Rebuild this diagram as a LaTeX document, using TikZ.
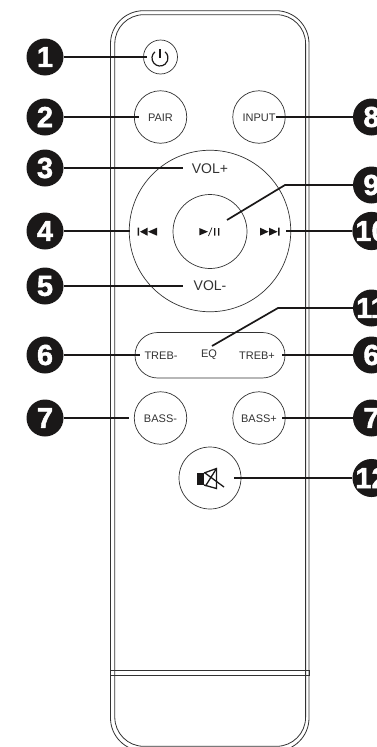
\documentclass[tikz,border=0pt]{standalone}
\usepackage{fontspec}
\setmainfont[BoldFeatures={FakeBold=1.6}]{Liberation Sans}
\usepackage{xcolor}
\usetikzlibrary{math}
\definecolor{myblack}{RGB}{26,24,24}
\definecolor{myline}{RGB}{50,50,50}
\tikzset{
  badge/.style={circle,fill=myblack,text=white,minimum size=37,inner sep=0,font=\fontsize{29}{29}\selectfont\bfseries},
  btn/.style={circle,draw=myline,line width=0.7,inner sep=0},
  lbl/.style={inner sep=0,text=myline,font=\fontsize{11}{11}\selectfont},
  leader/.style={line width=1.7,color=myblack},
  body/.style={line width=0.8,color=myline},
}
\begin{document}
\begin{tikzpicture}[x=1pt,y=-1pt]
\tikzmath{
\xl=160.5;%left column
\xm=210;%middle column
\xr=259;%right column
\xa=45;%left badges
\xb=371.5;%right badges
}
\useasboundingbox (0,0) rectangle (377,747);

% remote body
\begin{scope}
\clip (0,0) rectangle (377,747);
\draw[body,rounded corners=33] (110.5,10.7) rectangle (309,751);
\draw[body,rounded corners=29] (114.8,14.7) rectangle (305.6,746.3);
\draw[body] (110.5,670.5) rectangle (309,675.3);
\end{scope}

% buttons
\node[btn,minimum size=34] (power) at (\xl,57) {};
\node[btn,minimum size=52.5] (pair) at (\xl,117) {};
\node[btn,minimum size=52.5] (input) at (\xr,117) {};
\node[btn,minimum size=161.5] (ring) at (\xm,231) {};
\node[btn,minimum size=74] (play) at (\xm,231.5) {};
\node[btn,minimum size=52.5] (bassm) at (\xl,418) {};
\node[btn,minimum size=52.5] (bassp) at (\xr,418) {};
\node[btn,minimum size=62] (mute) at (\xm,478) {};
\draw[line width=0.7,color=myline,rounded corners=22.7] (135,332.5) rectangle (285,378);

% labels
\node[lbl] (tpair) at (\xl,117.5) {PAIR};
\node[lbl] (tinput) at (\xr,117.5) {INPUT};
\node[lbl,font=\fontsize{14}{14}\selectfont] (tvolp) at (\xm,169) {VOL+};
\node[lbl,font=\fontsize{14}{14}\selectfont] (tvolm) at (\xm,286) {VOL-};
\node[lbl] (ttrebm) at (161,356) {TREB-};
\node[lbl] (teq) at (209,355) {EQ};
\node[lbl] (ttrebp) at (257,356) {TREB+};
\node[lbl] (tbassm) at (\xl,419) {BASS-};
\node[lbl] (tbassp) at (\xr,419) {BASS+};

% icons
\draw[line width=1.2,color=myblack] (154.86,51.87) arc[start angle=-130,end angle=-410,radius=8];
\draw[line width=1.2,color=myblack] (160,49) -- (160,57.5);
\fill[myblack] (137.5,227.7) rectangle (139,235.7) (140,231.7) -- (147.5,227.7) -- (147.5,235.7) -- cycle (148,231.7) -- (157,227.7) -- (157,235.7) -- cycle;
\fill[myblack] (278,227.7) rectangle (279.5,235.7) (277.5,231.7) -- (269,227.7) -- (269,235.7) -- cycle (268.5,231.7) -- (260,227.7) -- (260,235.7) -- cycle;
\fill[myblack] (199.3,228) -- (208,231.7) -- (199.3,235.4) -- cycle (214,228) rectangle (215.3,235.7) (218,228) rectangle (219.3,235.7);
\draw[line width=0.7,color=myblack] (208.5,236) -- (212,227.5);
\fill[myblack] (196.7,473) rectangle (204,485);
\draw[line width=1.3,color=myblack] (204,473) -- (216.5,468.5) -- (216.5,488.5) -- (204,485);
\draw[line width=1.3,color=myblack] (205,473) -- (224,487) (216.5,468.5) -- (205.5,486);

% callouts
\node[badge] (b1) at (\xa,57) {1};
\node[badge] (b2) at (\xa,117) {2};
\node[badge] (b3) at (\xa,168) {3};
\node[badge] (b4) at (\xa,231) {4};
\node[badge] (b5) at (\xa,286) {5};
\node[badge] (b6) at (\xa,355) {6};
\node[badge] (b7) at (\xa,418) {7};
\node[badge] (b8) at (\xb,117) {8};
\node[badge] (b9) at (\xb,185) {9};
\node[badge] (b10) at (\xb,231) {10};
\node[badge] (b11) at (\xb,308) {11};
\node[badge] (b6r) at (\xb,355) {6};
\node[badge] (b7r) at (\xb,418) {7};
\node[badge] (b12) at (\xb,478) {12};

\coordinate (e1) at (147,57);
\coordinate (e2) at (139,117);
\coordinate (e3) at (183,168);
\coordinate (e4) at (130,231);
\coordinate (e5) at (183,286);
\coordinate (e6) at (140,355);
\coordinate (e7) at (129,418);
\coordinate (e8) at (276,117);
\coordinate (k9) at (285,185);
\coordinate (e9) at (227,220);
\coordinate (e10) at (286,231);
\coordinate (k11) at (278,308);
\coordinate (e11) at (212,346);
\coordinate (e6r) at (282,355);
\coordinate (e7r) at (282,418);
\coordinate (e12) at (234,478);

\draw[leader] (b1) -- (e1);
\draw[leader] (b2) -- (e2);
\draw[leader] (b3) -- (e3);
\draw[leader] (b4) -- (e4);
\draw[leader] (b5) -- (e5);
\draw[leader] (b6) -- (e6);
\draw[leader] (b7) -- (e7);
\draw[leader] (b8) -- (e8);
\draw[leader] (b9) -- (k9) -- (e9);
\draw[leader] (b10) -- (e10);
\draw[leader] (b11) -- (k11) -- (e11);
\draw[leader] (b6r) -- (e6r);
\draw[leader] (b7r) -- (e7r);
\draw[leader] (b12) -- (e12);
\end{tikzpicture}
\end{document}
